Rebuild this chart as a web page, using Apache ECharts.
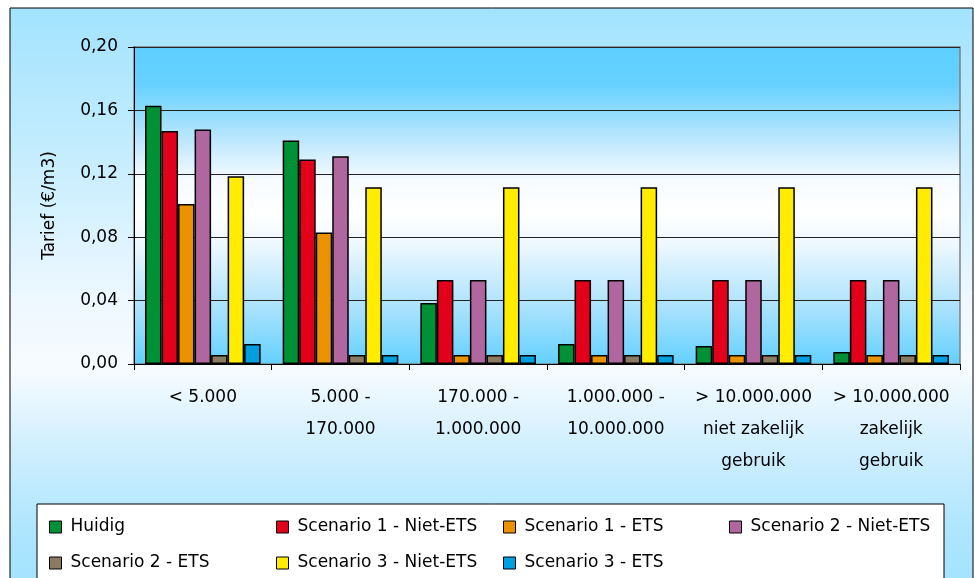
<!DOCTYPE html>
<html>
<head>
<meta charset="utf-8">
<script src="https://cdn.jsdelivr.net/npm/echarts@6/dist/echarts.min.js"></script>
<style>html,body{margin:0;padding:0;background:#fff;}#c{width:974px;height:578px;}</style>
</head>
<body>
<div id="c"></div>
<script>
var categories = ['< 5.000', '5.000 -\n170.000', '170.000 -\n1.000.000', '1.000.000 -\n10.000.000', '> 10.000.000\nniet zakelijk\ngebruik', '> 10.000.000\nzakelijk\ngebruik'];
var seriesNames = ['Huidig', 'Scenario 1 - Niet-ETS', 'Scenario 1 - ETS', 'Scenario 2 - Niet-ETS', 'Scenario 2 - ETS', 'Scenario 3 - Niet-ETS', 'Scenario 3 - ETS'];
var colors = ['#009036', '#e2001a', '#ea9200', '#b0679f', '#8b7b63', '#ffec00', '#009fe0'];
var huidig = [0.163, 0.141, 0.0385, 0.0126, 0.0114, 0.0076];
var sc1Niet = [0.147, 0.129, 0.053, 0.053, 0.053, 0.053];
var sc1Ets = [0.101, 0.083, 0.0057, 0.0057, 0.0057, 0.0057];
var sc2Niet = [0.148, 0.131, 0.053, 0.053, 0.053, 0.053];
var sc2Ets = [0.0057, 0.0057, 0.0057, 0.0057, 0.0057, 0.0057];
var sc3Niet = [0.1185, 0.1115, 0.1115, 0.1115, 0.1115, 0.1115];
var sc3Ets = [0.0126, 0.0057, 0.0057, 0.0057, 0.0057, 0.0057];
var yTicks = { min: 0, max: 0.2, interval: 0.04 };

var allData = [huidig, sc1Niet, sc1Ets, sc2Niet, sc2Ets, sc3Niet, sc3Ets];
var FONT = 'DejaVu Sans';

var chart = echarts.init(document.getElementById('c'), null, { renderer: 'canvas' });

var series = seriesNames.map(function (n, i) {
  return {
    name: n, type: 'bar', data: allData[i],
    barGap: '0%', barCategoryGap: '16%',
    itemStyle: { color: colors[i], borderColor: '#000', borderWidth: 1.5 },
    emphasis: { disabled: true }, animation: false
  };
});

function legend(names, left) {
  return {
    data: names, orient: 'vertical', left: left, top: 513,
    itemWidth: 12, itemHeight: 12, itemGap: 18,
    icon: 'rect',
    itemStyle: { borderColor: '#000', borderWidth: 1 },
    textStyle: { fontFamily: FONT, fontSize: 17, color: '#000', lineHeight: 18, padding: [0, 0, 0, 4] },
    selectedMode: false
  };
}

chart.setOption({
  animation: false,
  color: colors,
  graphic: [
    { type: 'rect', z: -10, shape: { x: 10, y: 8, width: 963, height: 585 },
      style: { stroke: '#000', lineWidth: 1,
        fill: { type: 'linear', x: 0, y: 0, x2: 0, y2: 1, colorStops: [
          { offset: 0, color: '#a2e3fe' }, { offset: 0.25, color: '#c5edfe' },
          { offset: 0.5, color: '#eef8ff' }, { offset: 0.62, color: '#f6fbff' },
          { offset: 0.76, color: '#cdeefe' }, { offset: 0.9, color: '#ace5fd' },
          { offset: 1, color: '#a2e3fe' }] } } },
    { type: 'rect', z: -5, shape: { x: 37, y: 504, width: 907, height: 90 },
      style: { stroke: '#000', lineWidth: 1, fill: '#fff' } }
  ],
  legend: [
    legend(['Huidig', 'Scenario 2 - ETS'], 44),
    legend(['Scenario 1 - Niet-ETS', 'Scenario 3 - Niet-ETS'], 271),
    legend(['Scenario 1 - ETS', 'Scenario 3 - ETS'], 498),
    legend(['Scenario 2 - Niet-ETS'], 724)
  ],
  grid: {
    left: 134, right: 14, top: 47, bottom: 214, show: true,
    borderColor: '#808080', borderWidth: 1.5,
    backgroundColor: { type: 'linear', x: 0, y: 0, x2: 0, y2: 1, colorStops: [
      { offset: 0, color: '#5ccfff' }, { offset: 0.12, color: '#66d1ff' },
      { offset: 0.3, color: '#bfe8fd' }, { offset: 0.42, color: '#f6fbff' },
      { offset: 0.52, color: '#ffffff' }, { offset: 0.62, color: '#eef8ff' },
      { offset: 0.8, color: '#b2e4fc' }, { offset: 1, color: '#62d0ff' }] }
  },
  xAxis: {
    type: 'category', data: categories,
    axisLine: { lineStyle: { color: '#000', width: 1 } },
    axisTick: { show: true, length: 6, lineStyle: { color: '#000' } },
    axisLabel: { fontFamily: FONT, fontSize: 17, color: '#000', lineHeight: 32, margin: 18, interval: 0 }
  },
  yAxis: {
    type: 'value', min: yTicks.min, max: yTicks.max, interval: yTicks.interval,
    name: 'Tarief (€/m3)', nameLocation: 'middle', nameGap: 76,
    nameTextStyle: { fontFamily: FONT, fontSize: 17, color: '#000' },
    axisLine: { show: true, lineStyle: { color: '#000', width: 1 } },
    axisTick: { show: true, length: 6, lineStyle: { color: '#000' } },
    splitLine: { lineStyle: { color: '#222', width: 1 } },
    axisLabel: { fontFamily: FONT, fontSize: 17, color: '#000', margin: 16,
      formatter: function (v) { return v.toFixed(2).replace('.', ','); } }
  },
  series: series
});
</script>
</body>
</html>
